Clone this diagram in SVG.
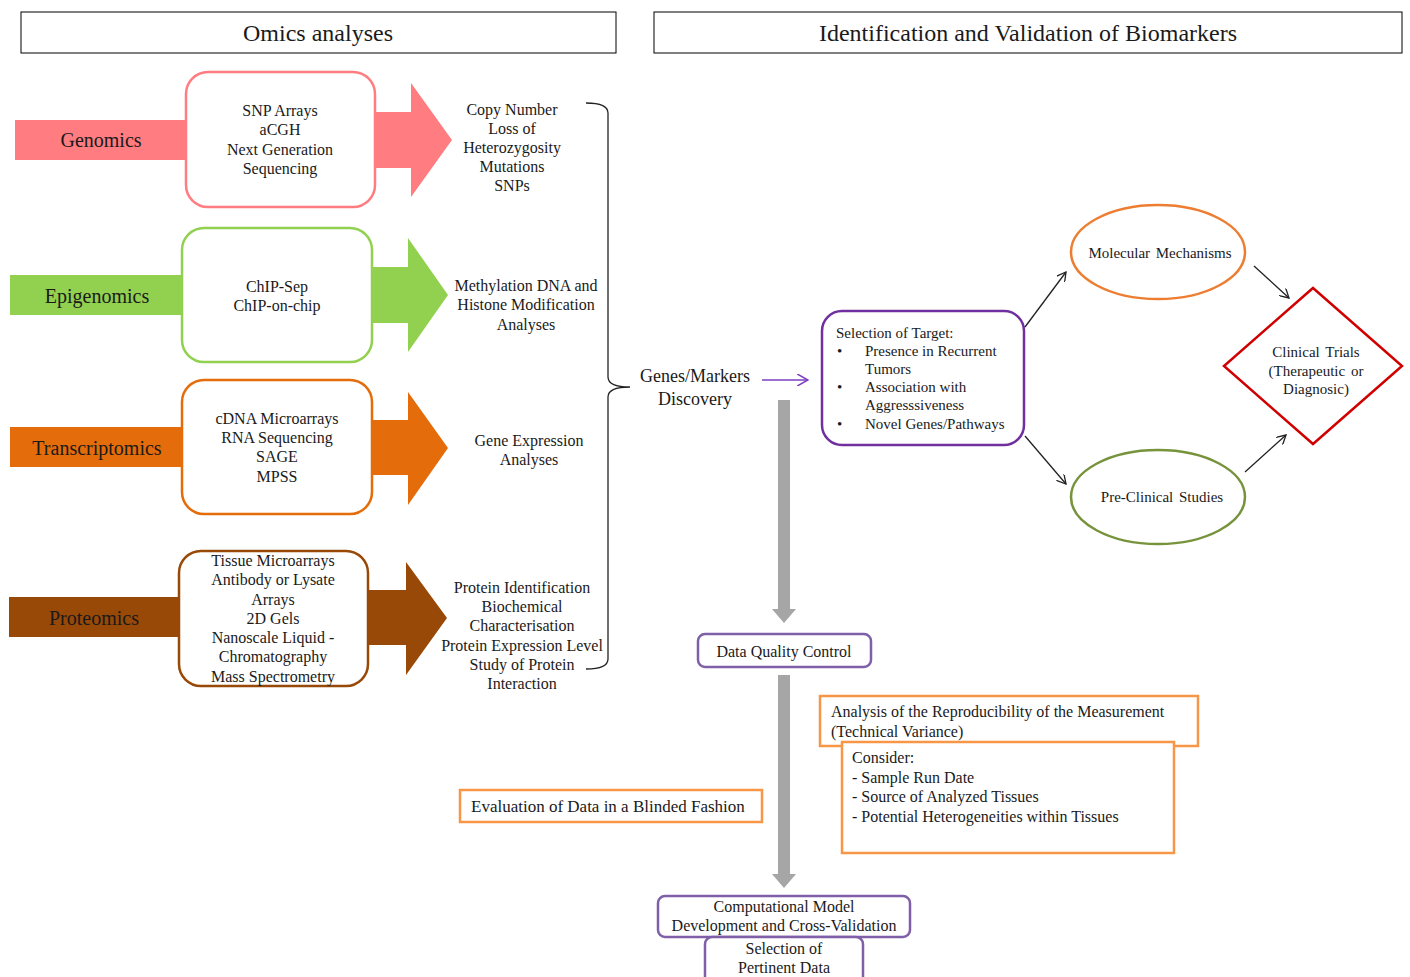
<svg xmlns="http://www.w3.org/2000/svg" width="1410" height="977" viewBox="0 0 1410 977">
<defs>
<style>
text{font-family:"Liberation Serif","Times New Roman",serif;fill:#1a1a1a}
.hdr{font-size:24px;text-anchor:middle}
.lbl{font-size:20px;text-anchor:middle}
.bx{font-size:16px;text-anchor:middle}
.lt{font-size:16px;text-anchor:start}
.rt{font-size:16px;text-anchor:middle}
.sm{font-size:15px}
.smc{font-size:15px;text-anchor:middle;word-spacing:2px}
.hbox{fill:#fff;stroke:#000;stroke-width:1}
.obox{fill:#fff;stroke-width:2.5}
.pbox{fill:#fff;stroke:#7f5fa8;stroke-width:2.5}
.orbox{fill:#fff;stroke:#f79646;stroke-width:2.5}
.conn{stroke:#222;stroke-width:1.3;fill:none}
.grey{fill:#a6a6a6}
</style>
<marker id="oa" viewBox="0 0 10 10" refX="9" refY="5" markerWidth="10" markerHeight="10" markerUnits="userSpaceOnUse" orient="auto">
<path d="M0,0 L9,5 L0,10" fill="none" stroke="#222" stroke-width="1.3"/>
</marker>
<marker id="pa" viewBox="0 0 10 10" refX="9" refY="5" markerWidth="12" markerHeight="12" markerUnits="userSpaceOnUse" orient="auto">
<path d="M0,0 L9,5 L0,10" fill="none" stroke="#7f3fbf" stroke-width="1.3"/>
</marker>
</defs>
<rect width="1410" height="977" fill="#fff"/>

<g id="header-omics">
<rect class="hbox" x="21" y="12" width="595" height="41"/>
<text class="hdr" x="318" y="41">Omics analyses</text>
</g>
<g id="header-biomarkers">
<rect class="hbox" x="654" y="12" width="748" height="41"/>
<text class="hdr" x="1028" y="41">Identification and Validation of Biomarkers</text>
</g>

<g id="genomics">
<rect x="15" y="120" width="180" height="40" fill="#ff7c80"/>
<polygon points="300,112 411,112 411,83 452,140 411,197 411,168 300,168" fill="#ff7c80"/>
<rect class="obox" x="186" y="72" width="189" height="135" rx="22" stroke="#ff7c80"/>
<text class="lbl" x="101" y="147">Genomics</text>
<text class="bx" x="280" y="116">SNP Arrays</text>
<text class="bx" x="280" y="135">aCGH</text>
<text class="bx" x="280" y="155">Next Generation</text>
<text class="bx" x="280" y="174">Sequencing</text>
<text class="rt" x="512" y="115">Copy Number</text>
<text class="rt" x="512" y="134">Loss of</text>
<text class="rt" x="512" y="153">Heterozygosity</text>
<text class="rt" x="512" y="172">Mutations</text>
<text class="rt" x="512" y="191">SNPs</text>
</g>

<g id="epigenomics">
<rect x="10" y="275" width="180" height="40" fill="#92d050"/>
<polygon points="300,267 408,267 408,238 448,295 408,352 408,323 300,323" fill="#92d050"/>
<rect class="obox" x="182" y="228" width="190" height="134" rx="22" stroke="#92d050"/>
<text class="lbl" x="97" y="303">Epigenomics</text>
<text class="bx" x="277" y="292">ChIP-Sep</text>
<text class="bx" x="277" y="311">ChIP-on-chip</text>
<text class="rt" x="526" y="291">Methylation DNA and</text>
<text class="rt" x="526" y="310">Histone Modification</text>
<text class="rt" x="526" y="330">Analyses</text>
</g>

<g id="transcriptomics">
<rect x="10" y="427" width="180" height="40" fill="#e46c0a"/>
<polygon points="300,420 408,420 408,392 448,448 408,505 408,475 300,475" fill="#e46c0a"/>
<rect class="obox" x="182" y="380" width="190" height="134" rx="22" stroke="#e46c0a"/>
<text class="lbl" x="97" y="455">Transcriptomics</text>
<text class="bx" x="277" y="424">cDNA Microarrays</text>
<text class="bx" x="277" y="443">RNA Sequencing</text>
<text class="bx" x="277" y="462">SAGE</text>
<text class="bx" x="277" y="482">MPSS</text>
<text class="rt" x="529" y="446">Gene Expression</text>
<text class="rt" x="529" y="465">Analyses</text>
</g>

<g id="proteomics">
<rect x="9" y="597" width="180" height="40" fill="#984807"/>
<polygon points="300,590 406,590 406,562 447,618 406,675 406,645 300,645" fill="#984807"/>
<rect class="obox" x="179" y="551" width="189" height="135" rx="22" stroke="#984807"/>
<text class="lbl" x="94" y="625">Proteomics</text>
<text class="bx" x="273" y="566">Tissue Microarrays</text>
<text class="bx" x="273" y="585">Antibody or Lysate</text>
<text class="bx" x="273" y="605">Arrays</text>
<text class="bx" x="273" y="624">2D Gels</text>
<text class="bx" x="273" y="643">Nanoscale Liquid -</text>
<text class="bx" x="273" y="662">Chromatography</text>
<text class="bx" x="273" y="682">Mass Spectrometry</text>
<text class="rt" x="522" y="593">Protein Identification</text>
<text class="rt" x="522" y="612">Biochemical</text>
<text class="rt" x="522" y="631">Characterisation</text>
<text class="rt" x="522" y="651">Protein Expression Level</text>
<text class="rt" x="522" y="670">Study of Protein</text>
<text class="rt" x="522" y="689">Interaction</text>
</g>

<g id="genes-markers">
<text style="font-size:18px;text-anchor:middle" x="695" y="382">Genes/Markers</text>
<text style="font-size:18px;text-anchor:middle" x="695" y="405">Discovery</text>
</g>

<g id="selection-target">
<rect x="822" y="311" width="202" height="134" rx="20" fill="#fff" stroke="#7030a0" stroke-width="2.5"/>
<text class="sm" x="836" y="338">Selection of Target:</text>
<text class="sm" x="837" y="356">•</text>
<text class="sm" x="865" y="356">Presence in Recurrent</text>
<text class="sm" x="865" y="374">Tumors</text>
<text class="sm" x="837" y="392">•</text>
<text class="sm" x="865" y="392">Association with</text>
<text class="sm" x="865" y="410">Aggresssiveness</text>
<text class="sm" x="837" y="429">•</text>
<text class="sm" x="865" y="429">Novel Genes/Pathways</text>
</g>

<g id="molecular-mechanisms">
<ellipse cx="1158" cy="252" rx="87" ry="47" fill="#fff" stroke="#ed7d31" stroke-width="2.5"/>
<text class="smc" x="1160" y="258">Molecular Mechanisms</text>
</g>

<g id="pre-clinical">
<ellipse cx="1158" cy="497" rx="87" ry="47" fill="#fff" stroke="#77933c" stroke-width="2.5"/>
<text class="smc" x="1162" y="502">Pre-Clinical Studies</text>
</g>

<g id="clinical-trials">
<polygon points="1313,288 1402,366 1313,444 1224,366" fill="#fff" stroke="#d00000" stroke-width="2.5"/>
<text class="smc" x="1316" y="357">Clinical Trials</text>
<text class="smc" x="1316" y="376">(Therapeutic or</text>
<text class="smc" x="1316" y="394">Diagnosic)</text>
</g>

<g id="data-quality">
<rect class="pbox" x="698" y="634" width="173" height="33" rx="7"/>
<text class="bx" x="784" y="657">Data Quality Control</text>
</g>

<g id="reproducibility">
<rect class="orbox" x="820" y="696" width="378" height="50"/>
<text class="lt" x="831" y="717">Analysis of the Reproducibility of the Measurement</text>
<text class="lt" x="831" y="737">(Technical Variance)</text>
</g>

<g id="consider">
<rect class="orbox" x="842" y="742" width="332" height="111"/>
<text class="lt" x="852" y="763">Consider:</text>
<text class="lt" x="852" y="783">- Sample Run Date</text>
<text class="lt" x="852" y="802">- Source of Analyzed Tissues</text>
<text class="lt" x="852" y="822">- Potential Heterogeneities within Tissues</text>
</g>

<g id="evaluation">
<rect class="orbox" x="460" y="790" width="302" height="32"/>
<text style="font-size:17px" x="471" y="812">Evaluation of Data in a Blinded Fashion</text>
</g>

<g id="computational-model">
<rect class="pbox" x="658" y="896" width="252" height="41" rx="7"/>
<text class="bx" x="784" y="912">Computational Model</text>
<text class="bx" x="784" y="931">Development and Cross-Validation</text>
</g>

<g id="pertinent-data">
<rect class="pbox" x="705" y="937" width="158" height="50" rx="7"/>
<text class="bx" x="784" y="954">Selection of</text>
<text class="bx" x="784" y="973">Pertinent Data</text>
</g>

<g id="connectors">
<path class="conn" d="M586,103 Q608,103 608,113 L608,377 Q608,387 630,387 Q608,387 608,397 L608,659 Q608,669 586,669"/>
<line x1="762" y1="380" x2="808" y2="380" stroke="#7f3fbf" stroke-width="1.5" marker-end="url(#pa)"/>
<polygon class="grey" points="778,400 790,400 790,609 796,609 784,623 772,609 778,609"/>
<polygon class="grey" points="778,675 790,675 790,874 796,874 784,888 772,874 778,874"/>
<line class="conn" x1="1025" y1="327" x2="1066" y2="272" marker-end="url(#oa)"/>
<line class="conn" x1="1025" y1="436" x2="1066" y2="484" marker-end="url(#oa)"/>
<line class="conn" x1="1254" y1="266" x2="1289" y2="298" marker-end="url(#oa)"/>
<line class="conn" x1="1245" y1="472" x2="1286" y2="435" marker-end="url(#oa)"/>
</g>
</svg>
